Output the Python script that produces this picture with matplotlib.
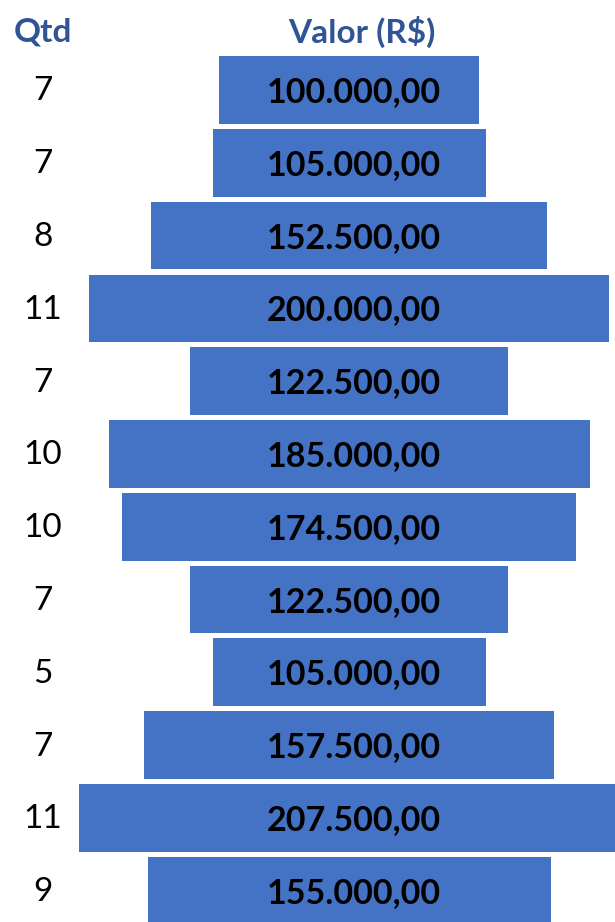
import matplotlib.pyplot as plt

plt.rcParams['font.family'] = ['Lato', 'DejaVu Sans']

# quantidades e valores por linha
qtd = [7, 7, 8, 11, 7, 10, 10, 7, 5, 7, 11, 9]
valores = [100000, 105000, 152500, 200000, 122500, 185000,
           174500, 122500, 105000, 157500, 207500, 155000]


def formata_brl(v):
    s = f"{v:,.2f}"
    return s.replace(",", "X").replace(".", ",").replace("X", ".")


fig = plt.figure(figsize=(6.15, 9.22), dpi=100)
ax = fig.add_axes([0, 0, 1, 1])

posicoes = list(range(len(valores)))
lefts = [-v / 2 for v in valores]
ax.barh(posicoes, valores, left=lefts, height=0.93, color='#4472C4')

for y, v in zip(posicoes, valores):
    ax.text(1900, y + 0.03, formata_brl(v), ha='center', va='center',
            fontsize=24.5, fontweight='bold', color='black')

# coluna Qtd (em coordenadas de pixel no eixo x)
x_qtd = -134231 + 43 / 0.0026
for y, q in zip(posicoes, qtd):
    ax.text(x_qtd, y + 0.02, str(q), ha='center', va='center', fontsize=24, color='black')

ax.text(x_qtd, -0.8, "Qtd", ha='center', va='center', fontsize=24,
        fontweight='bold', color='#2F5597')
ax.text(5000, -0.8, "Valor (R$)", ha='center', va='center', fontsize=24,
        fontweight='bold', color='#2F5597')

ax.set_xlim(-349 / 0.0026, (615 - 349) / 0.0026)
ax.set_ylim(11.43, -1.236)
ax.axis('off')

fig.savefig('out.png', dpi=100)
